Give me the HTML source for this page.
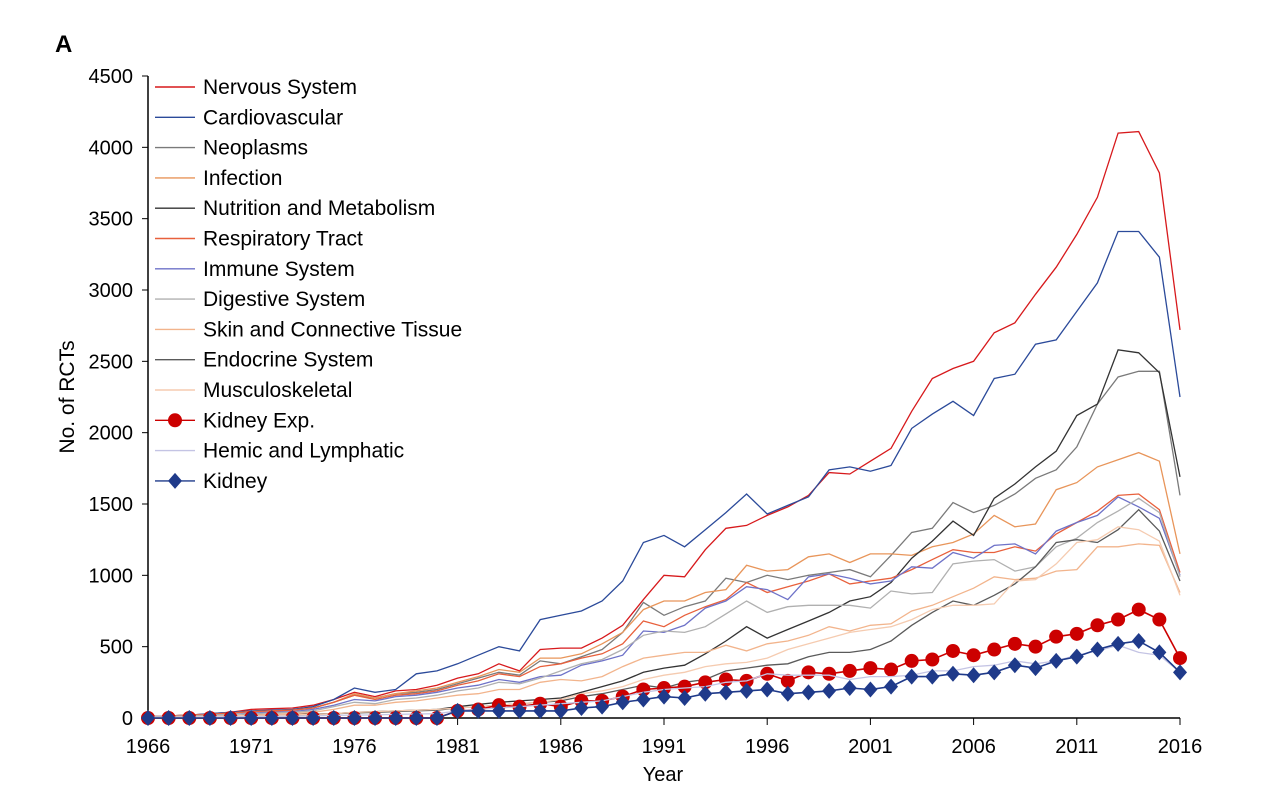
<!DOCTYPE html>
<html><head><meta charset="utf-8"><style>
body{margin:0;background:#fff;}
svg text{font-family:"Liberation Sans",Arial,sans-serif;}
</style></head><body>
<svg id="chart" width="1273" height="804">
<text x="55" y="52" font-size="24" font-weight="bold">A</text>
<text x="663" y="781" font-size="20" text-anchor="middle">Year</text>
<text transform="translate(74,397) rotate(-90)" font-size="21" text-anchor="middle">No. of RCTs</text>
<g id="axes"></g><g id="series"></g><g id="legend"></g>
</svg>
<script>
const years = []; for (let y = 1966; y <= 2016; y++) years.push(y);
const yTicks = [0,500,1000,1500,2000,2500,3000,3500,4000,4500];
const xTicks = [1966,1971,1976,1981,1986,1991,1996,2001,2006,2011,2016];
const seriesNames = ["Nervous System","Cardiovascular","Neoplasms","Infection","Nutrition and Metabolism","Respiratory Tract","Immune System","Digestive System","Skin and Connective Tissue","Endocrine System","Musculoskeletal","Kidney Exp.","Hemic and Lymphatic","Kidney"];
const nervous = [10,15,20,30,40,60,65,70,90,130,180,150,190,200,230, 280,310,380,330,480,490,490,560,650,830, 1000,990,1180,1330,1350,1420,1480,1560,1720,1710, 1800,1890,2150,2380,2450,2500,2700,2770,2970,3160, 3390,3650,4100,4110,3820,2720];
const cardio = [10,15,20,30,40,50,55,60,80,130,210,180,200,310,330, 380,440,500,470,690,720,750,820,960,1230, 1280,1200,1320,1440,1570,1430,1490,1550,1740,1760, 1730,1770,2030,2130,2220,2120,2380,2410,2620,2650, 2850,3050,3410,3410,3230,2250];
const neoplasms = [10,15,20,25,35,45,50,55,70,110,160,140,170,180,200, 240,280,320,300,400,380,430,480,600,810, 720,780,820,980,950,1000,970,1000,1020,1040, 990,1140,1300,1330,1510,1440,1490,1570,1680,1740, 1900,2200,2390,2430,2430,1560];
const infection = [10,15,20,25,35,45,50,55,70,110,170,140,170,190,210, 250,290,340,320,420,420,450,520,600,760, 820,820,880,900,1070,1030,1040,1130,1150,1090, 1150,1150,1140,1200,1230,1290,1420,1340,1360,1600, 1650,1760,1810,1860,1800,1150];
const nutrition = [5,8,10,12,15,20,22,25,28,30,40,45,50,55,60, 80,95,110,120,130,140,180,220,260,320, 350,370,450,540,640,560,620,680,740,820, 850,950,1120,1240,1380,1280,1540,1640,1760,1870, 2120,2200,2580,2560,2420,1690];
const respiratory = [10,15,20,25,35,45,50,55,70,110,160,130,160,170,190, 230,260,310,290,360,380,420,450,520,680, 640,720,780,830,950,880,920,960,1010,940, 960,980,1040,1110,1180,1160,1160,1200,1170,1290, 1370,1450,1560,1570,1460,1020];
const immune = [10,12,15,20,25,35,40,45,60,90,130,120,150,160,180, 210,230,270,250,290,300,370,400,440,610, 600,650,770,820,920,900,830,990,1010,980, 940,960,1060,1050,1160,1120,1210,1220,1150,1310, 1370,1420,1550,1480,1400,1000];
const digestive = [10,12,15,20,25,30,35,40,50,80,110,100,130,140,160, 190,210,250,240,280,330,380,410,480,580, 610,600,640,730,820,740,780,790,790,790, 770,890,870,880,1080,1100,1110,1030,1060,1200, 1260,1370,1450,1540,1440,990];
const skin = [5,8,10,12,15,20,25,30,40,60,90,90,110,120,140, 160,170,200,200,250,270,260,290,360,420, 440,460,460,510,470,520,540,580,640,610, 650,660,750,790,850,910,990,970,980,1030, 1040,1200,1200,1220,1210,880];
const endocrine = [5,8,10,12,15,18,20,22,25,30,35,40,45,50,55, 70,80,90,100,110,120,150,170,200,230, 210,250,270,330,350,370,380,430,460,460, 480,540,650,740,820,790,860,940,1060,1230, 1250,1230,1320,1460,1310,960];
const musculo = [5,8,10,12,15,18,20,22,25,30,40,45,50,55,60, 70,80,90,100,110,130,170,190,220,270, 300,320,360,380,390,420,480,520,560,600, 620,640,690,760,790,790,800,960,970,1080, 1230,1250,1340,1320,1240,860];
const kidneyExp = [0,0,0,0,0,0,0,0,0,0,0,0,0,0,0, 50,60,90,80,100,80,120,120,150,200, 210,220,250,270,260,310,260,320,310,330, 350,340,400,410,470,440,480,520,500,570, 590,650,690,760,690,420];
const hemic = [5,5,5,8,8,10,10,12,15,18,20,22,25,28,30, 50,60,70,80,90,100,110,120,150,180, 200,210,220,250,260,310,300,300,300,270, 290,290,300,330,330,360,370,400,380,400, 440,470,510,460,440,320];
const kidney = [0,0,0,0,0,0,0,0,0,0,0,0,0,0,0, 50,50,50,50,50,50,70,80,110,130, 150,140,170,180,190,200,170,180,190,210, 200,220,290,290,310,300,320,370,350,400, 430,480,520,540,460,320];

const allData=[nervous,cardio,neoplasms,infection,nutrition,respiratory,immune,digestive,skin,endocrine,musculo,kidneyExp,hemic,kidney];
const colors=["#d7191c","#2b4a9a","#7a7a7a","#e8955a","#333333","#e8603c","#6e72c8","#b0b0b0","#f2b48c","#5a5a5a","#f5cbb0","#cc0000","#c4c4e4","#1f3a8a"];
const markers=[null,null,null,null,null,null,null,null,null,null,null,"circle",null,"diamond"];
const NS="http://www.w3.org/2000/svg";
const X0=148,X1=1180,Y0=718,Y1=76;
const xs=y=>X0+(y-1966)/50*(X1-X0);
const ys=v=>Y0-v/4500*(Y0-Y1);
function mk(tag,attrs,parent){const e=document.createElementNS(NS,tag);for(const k in attrs)e.setAttribute(k,attrs[k]);parent.appendChild(e);return e;}
const axes=document.getElementById('axes');
let a=mk('line',{x1:X0,y1:Y1,x2:X0,y2:Y0,stroke:'#000','stroke-width':1.5},axes);

a=mk('line',{x1:X0,y1:Y0,x2:X1,y2:Y0,stroke:'#000','stroke-width':1.5},axes);

yTicks.forEach(t=>{mk('line',{x1:X0-6,x2:X0,y1:ys(t),y2:ys(t),stroke:'#000'},axes);
 const tx=mk('text',{x:X0-15,y:ys(t)+7,'font-size':20,'text-anchor':'end'},axes);tx.textContent=t;
 });
xTicks.forEach(t=>{mk('line',{x1:xs(t),x2:xs(t),y1:Y0,y2:Y0+7,stroke:'#000'},axes);
 const tx=mk('text',{x:xs(t),y:Y0+35,'font-size':20,'text-anchor':'middle'},axes);tx.textContent=t;
 });
const sg=document.getElementById('series');
function marker(type,x,y,c,p){
 if(type==='circle'){const m=mk('circle',{cx:x,cy:y,r:7,fill:c},p);}
 else if(type==='diamond'){const m=mk('polygon',{points:`${x},${y-8} ${x+7},${y} ${x},${y+8} ${x-7},${y}`,fill:c},p);}
}
allData.forEach((d,i)=>{
 const g=mk('g',{},sg);
 
 
 const pts=d.map((v,j)=>xs(years[j]).toFixed(1)+','+ys(v).toFixed(1)).join(' ');
 const pl=mk('polyline',{points:pts,fill:'none',stroke:colors[i],'stroke-width':markers[i]?1.6:1.3},g);
 
 if(markers[i]) d.forEach((v,j)=>marker(markers[i],xs(years[j]),ys(v),colors[i],g));
});
const lg=document.getElementById('legend');
seriesNames.forEach((n,i)=>{
 const y=87+i*30.3;
 const g=mk('g',{},lg);
 
 mk('line',{x1:155,x2:195,y1:y,y2:y,stroke:colors[i],'stroke-width':1.4},g);
 if(markers[i]) marker(markers[i],175,y,colors[i],g);
 const t=mk('text',{x:203,y:y+7,'font-size':21},g);t.textContent=n;
});
</script>
</body></html>
